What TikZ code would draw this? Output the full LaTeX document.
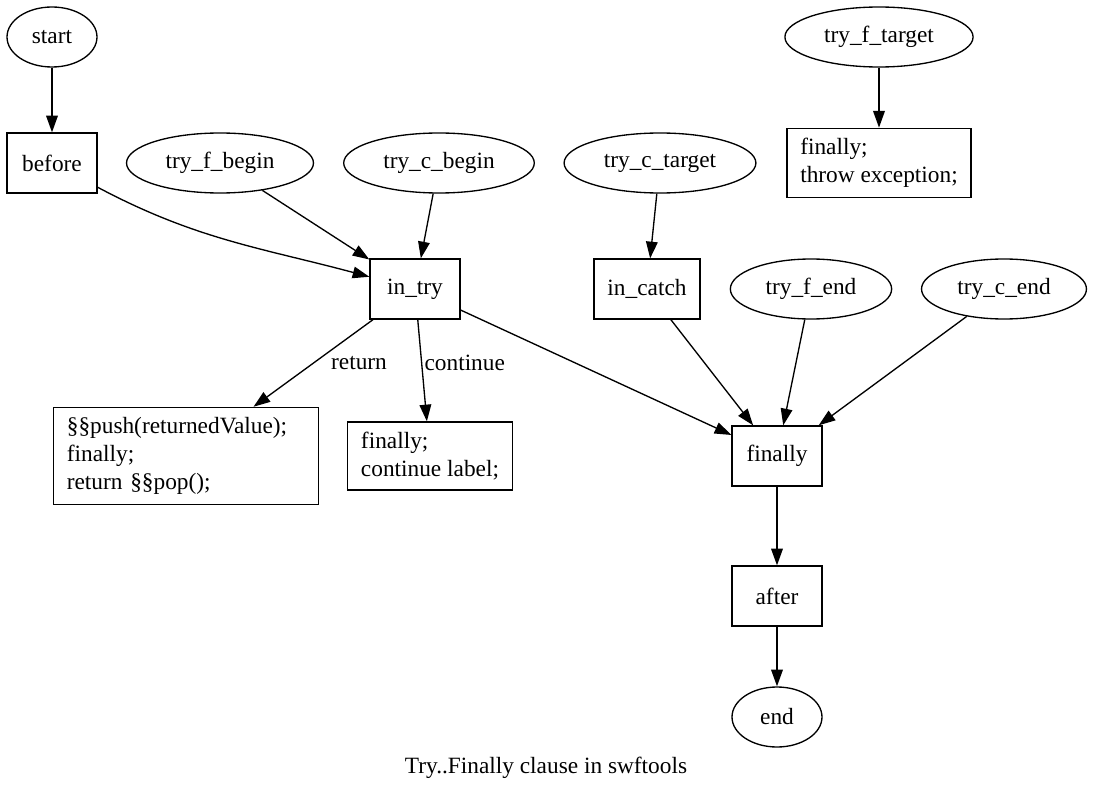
\documentclass[tikz,border=0pt]{standalone}
\usepackage{fontspec}
\setmainfont{Liberation Serif}
\usepackage{tikz}
\usetikzlibrary{shapes.geometric,arrows.meta,positioning}

\begin{document}
\begin{tikzpicture}[->,>={Triangle[length=10pt,width=7pt]},thick,x=0.6pt,y=-0.6pt,
	font=\fontsize{14pt}{16.8pt}\selectfont,
	state/.style={ellipse,draw,minimum width=54pt,minimum height=36pt,inner xsep=7pt,inner ysep=2pt},
	block/.style={rectangle,draw,minimum width=54pt,minimum height=36pt,inner xsep=8pt,inner ysep=6pt,align=left}]
	\useasboundingbox (0,0) rectangle (1093,796);
	\node [state] at (52,37) (start) {start};
	\node [block] at (52,163) (before) {before};
	\node [state] at (220,163) (tfbegin) {try\_f\_begin};
	\node [state] at (439,163) (tcbegin) {try\_c\_begin};
	\node [state] at (660,163) (tctarget) {try\_c\_target};
	\node [state] at (879,37) (tftarget) {try\_f\_target};
	\node [block] at (879,163) (throw) {finally;\\throw exception;};
	\node [block] at (415,289) (intry) {in\_try};
	\node [block] at (647,289) (incatch) {in\_catch};
	\node [state] at (811,289) (tfend) {try\_f\_end};
	\node [state] at (1004,289) (tcend) {try\_c\_end};
	\node [block,text width=143pt] at (186,456) (ret) {§§push(returnedValue);\\finally;\\return §§pop();};
	\node [block] at (430,456) (cont) {finally;\\continue label;};
	\node [block] at (777,456) (finally) {finally};
	\node [block] at (777,596) (after) {after};
	\node [state] at (777,717) (end) {end};
	\node at (546,768) (caption) {Try..Finally clause in swftools};

	\path[->]
	(start) edge (before)
	(before) edge[out=-28,in=165] (intry)
	(tfbegin) edge (intry)
	(tcbegin) edge (intry)
	(tftarget) edge (throw)
	(tctarget) edge (incatch)
	(intry) edge node[right=7pt,pos=0.5] {return} (ret)
	(intry) edge node[right=-2pt,pos=0.43] {continue} (cont)
	(intry) edge (finally)
	(incatch) edge (finally)
	(tfend) edge (finally)
	(tcend) edge (finally)
	(finally) edge (after)
	(after) edge (end);
\end{tikzpicture}
\end{document}
